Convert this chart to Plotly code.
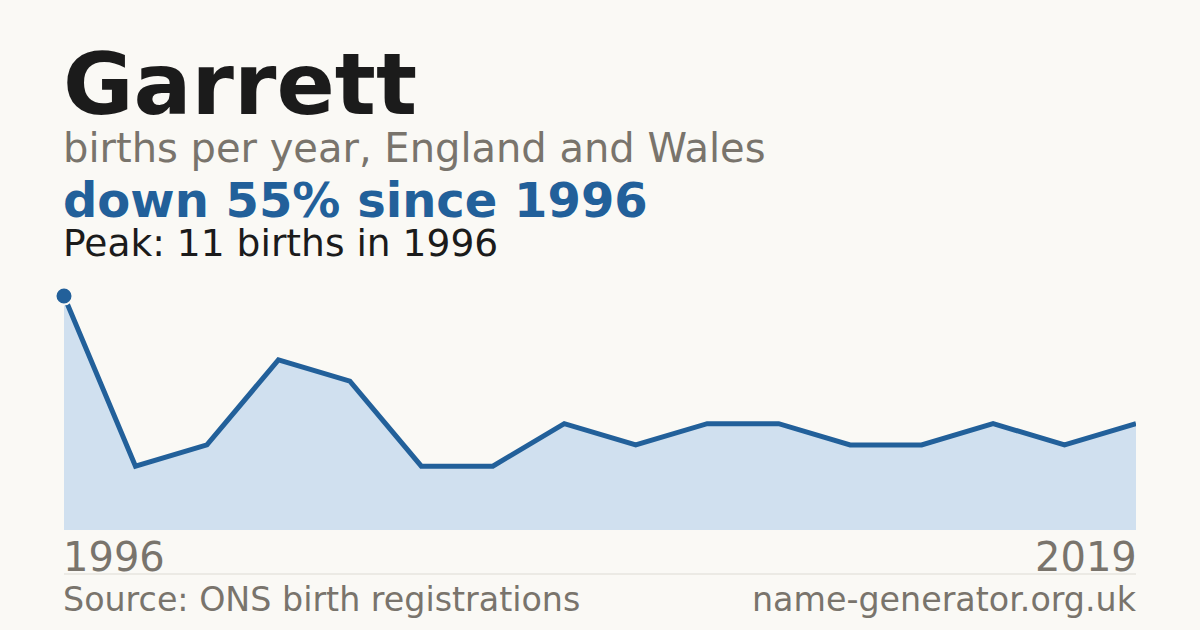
import plotly.graph_objects as go

# ==========================================
# 1. DATA
# ==========================================
NAME = "Garrett"
YEARS = ["1996", "1997", "1998", "1999", "2000", "2002", "2003", "2005",
         "2007", "2008", "2010", "2012", "2013", "2015", "2017", "2019"]
BIRTHS = [11, 3, 4, 8, 7, 3, 3, 5, 4, 5, 5, 4, 4, 5, 4, 5]

BG = "#faf9f5"
BLUE = "#22609a"
FILL = "#d0e0ef"
GREY = "#79746c"
INK = "#1b1b1b"
FONT = "DejaVu Sans"

peak = max(BIRTHS)
peak_year = YEARS[BIRTHS.index(peak)]
change = round((BIRTHS[-1] - BIRTHS[0]) / BIRTHS[0] * 100)

# plot area in pixels: top 296, bottom 530
PLOT_TOP, PLOT_BOTTOM = 296, 530


def py(y_px):
    # pixel row -> paper coordinate
    return (PLOT_BOTTOM - y_px) / (PLOT_BOTTOM - PLOT_TOP)


# ==========================================
# 2. FIGURE
# ==========================================
fig = go.Figure()

fig.add_trace(go.Scatter(
    x=YEARS, y=BIRTHS,
    mode="lines",
    line=dict(color=BLUE, width=5),
    fill="tozeroy", fillcolor=FILL,
    hoverinfo="skip",
))

fig.add_trace(go.Scatter(
    x=[peak_year], y=[peak],
    mode="markers",
    marker=dict(color=BLUE, size=17, line=dict(color=BG, width=2)),
    cliponaxis=False,
    hoverinfo="skip",
))

texts = [
    (f"<b>{NAME}</b>", 86, INK, 84, "left", 0),
    ("births per year, England and Wales", 40, GREY, 148, "left", 0),
    (f"<b>down {abs(change)}% since {YEARS[0]}</b>", 48, BLUE, 200, "left", 0),
    (f"Peak: {peak} births in {peak_year}", 37.6, INK, 243, "left", 0),
    (YEARS[0], 40, GREY, 557, "left", 0),
    (YEARS[-1], 40, GREY, 557, "right", 1),
    ("Source: ONS birth registrations", 33.3, GREY, 599, "left", 0),
    ("name-generator.org.uk", 33.3, GREY, 599, "right", 1),
]
for txt, size, color, ypx, anchor, xp in texts:
    fig.add_annotation(
        text=txt, xref="paper", yref="paper", x=xp, y=py(ypx),
        xanchor=anchor, yanchor="middle", showarrow=False,
        xshift=-3 if anchor == "left" else 3,
        font=dict(family=FONT, size=size, color=color),
    )

fig.add_shape(type="line", xref="paper", yref="paper",
              x0=0, x1=1, y0=py(574), y1=py(574),
              line=dict(color="#dddbd4", width=1))

fig.update_layout(
    width=1200, height=630,
    margin=dict(l=64, r=64, t=PLOT_TOP, b=630 - PLOT_BOTTOM),
    paper_bgcolor=BG, plot_bgcolor=BG,
    showlegend=False,
    xaxis=dict(type="category", range=[0, len(YEARS) - 1], visible=False),
    yaxis=dict(range=[0, peak], visible=False),
)

# drop the page margin so the figure sits at the window's corner
fig.write_html("out.html", config={"displayModeBar": False},
               post_script="document.body.style.margin='0';")
